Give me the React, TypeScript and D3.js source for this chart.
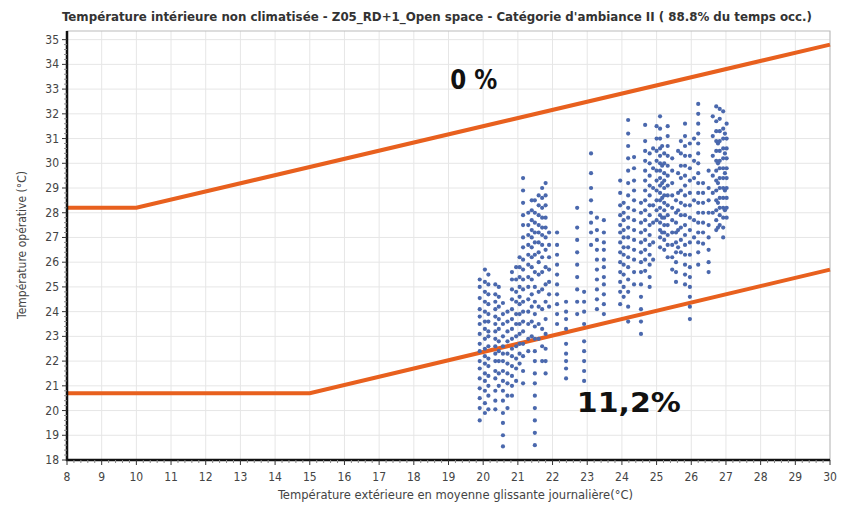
import { useEffect, useRef } from 'react'
import * as d3 from 'd3'

// comfort band boundaries (outdoor running mean -> operative temperature)
const upperX = [8, 10, 30]
const upperY = [28.2, 28.2, 34.8]
const lowerX = [8, 15, 30]
const lowerY = [20.7, 20.7, 25.7]

const xTicks = d3.range(8, 31)
const yTicks = d3.range(18, 36)

// hourly points, grouped by daily running mean (columns)
const columnX = [
  19.9, 20.05, 20.15, 20.35, 20.45, 20.57, 20.7, 20.83, 20.95, 21.05,
  21.15, 21.3, 21.4, 21.49, 21.6, 21.7, 21.8, 21.9, 22.13, 22.39,
  22.71, 22.91, 23.11, 23.28, 23.48, 23.95, 24.05, 24.18, 24.35, 24.55,
  24.67, 24.8, 25.0, 25.1, 25.22, 25.32, 25.45, 25.56, 25.7, 25.82,
  25.96, 26.2, 26.34, 26.5, 26.72, 26.82, 26.92, 27.02,
  24.9, 25.16, 25.62, 26.08, 26.62, 26.77, 26.97,
]
const columnY = [
  [19.6, 20.1, 20.5, 20.9, 21.3, 21.7, 22.0, 22.4, 22.7, 23.1, 23.5, 23.8, 24.1, 24.55, 25.0, 25.3],
  [19.9, 20.3, 20.8, 21.2, 21.5, 21.9, 22.2, 22.5, 22.9, 23.3, 23.6, 24.0, 24.4, 24.8, 25.2, 25.7],
  [20.05, 20.6, 21.0, 21.4, 21.8, 22.1, 22.6, 23.0, 23.2, 23.6, 23.9, 24.3, 24.7, 25.1, 25.5],
  [20.05, 20.4, 20.8, 21.3, 21.6, 22.0, 22.3, 22.6, 22.9, 23.2, 23.5, 23.8, 24.1, 24.4, 24.7, 25.1],
  [21.0, 21.5, 22.0, 22.4, 22.8, 23.3, 23.7, 24.2, 24.6, 25.0],
  [18.55, 19.0, 19.5, 19.9, 20.4, 20.8, 21.2, 21.6, 22.0, 22.3, 22.6, 23.0, 23.5, 23.9, 24.35],
  [20.1, 20.6, 21.1, 21.5, 21.9, 22.3, 22.8, 23.2, 23.6, 24.0],
  [20.6, 21.0, 21.4, 21.8, 22.2, 22.5, 22.9, 23.3, 23.7, 24.1, 24.5, 24.9, 25.3, 25.6],
  [21.2, 21.7, 22.1, 22.6, 23.0, 23.5, 23.9, 24.4, 24.8, 25.3, 25.8],
  [21.9, 22.3, 22.7, 23.1, 23.5, 23.9, 24.3, 24.6, 25.0, 25.4, 25.8, 26.2],
  [21.1, 21.6, 22.2, 22.7, 23.2, 23.6, 24.0, 24.4, 24.9, 25.3, 25.7, 26.1, 26.6, 27.0, 27.5, 27.9, 28.4, 28.9, 29.4],
  [22.4, 22.9, 23.5, 24.0, 24.5, 25.0, 25.4, 25.9, 26.3, 26.7, 27.1, 27.5, 28.0],
  [23.0, 23.6, 24.2, 24.7, 25.3, 25.8, 26.2, 26.6, 27.0, 27.3, 27.7, 28.1, 28.5],
  [18.6, 19.1, 19.6, 20.1, 20.6, 21.1, 21.5, 22.0, 22.4, 22.9, 23.4, 23.9, 24.4, 25.0, 25.6, 26.3, 26.8, 27.2, 27.6, 28.0, 28.5],
  [22.9, 23.5, 24.2, 24.8, 25.5, 26.0, 26.4, 26.8, 27.2, 27.5, 27.9, 28.3, 28.7],
  [22.0, 22.6, 23.3, 24.1, 24.9, 25.6, 26.2, 26.7, 27.1, 27.4, 27.8, 28.2, 28.6, 29.0],
  [21.5, 22.0, 22.5, 23.1, 23.7, 24.4, 25.1, 25.8, 26.5, 27.0, 27.4, 27.8, 28.3, 28.7, 29.2],
  [24.2, 24.7, 25.2, 25.7, 26.2, 26.7, 27.2],
  [23.5, 23.9, 24.3, 24.7, 25.1, 25.5, 25.9, 26.3, 26.7, 27.2],
  [21.3, 21.7, 22.0, 22.3, 22.7, 23.3, 23.7, 24.0, 24.4],
  [23.9, 24.4, 24.9, 25.4, 25.9, 26.4, 26.9, 27.4, 28.2],
  [21.2, 21.6, 22.0, 22.4, 22.8, 23.5, 24.0, 24.4, 24.8],
  [26.7, 27.2, 27.6, 28.0, 28.5, 29.0, 29.6, 30.4],
  [24.1, 24.5, 24.9, 25.3, 25.7, 26.1, 26.5, 26.9, 27.3, 27.8],
  [23.9, 24.3, 24.7, 25.1, 25.4, 25.8, 26.1, 26.5, 26.8, 27.2, 27.7],
  [24.3, 24.8, 25.2, 25.6, 26.0, 26.4, 26.8, 27.2, 27.5, 27.9, 28.3, 28.8, 29.3],
  [24.6, 25.0, 25.5, 25.9, 26.3, 26.6, 27.0, 27.3, 27.7, 28.0, 28.4],
  [23.6, 24.2, 24.8, 25.3, 25.8, 26.2, 26.6, 27.0, 27.4, 27.8, 28.2, 28.7, 29.2, 29.7, 30.2, 30.7, 31.2, 31.75],
  [25.1, 25.6, 26.1, 26.5, 26.9, 27.3, 27.7, 28.1, 28.5, 28.9, 29.3, 29.8, 30.25],
  [23.1, 23.6, 24.1, 24.6, 25.1, 25.6, 26.0, 26.4, 26.8, 27.2, 27.6, 28.0, 28.4],
  [25.65, 26.1, 26.5, 26.9, 27.3, 27.7, 28.1, 28.5, 28.9, 29.3, 29.7, 30.1, 30.5, 30.9, 31.55],
  [25.0, 25.4, 25.9, 26.3, 26.7, 27.1, 27.5, 27.9, 28.3, 28.7, 29.1, 29.5, 30.0, 30.4],
  [27.7, 28.1, 28.5, 28.9, 29.3, 29.7, 30.1, 30.5, 31.0, 31.5],
  [26.6, 27.0, 27.3, 27.6, 27.9, 28.2, 28.5, 28.8, 29.1, 29.4, 29.7, 30.0, 30.3, 30.6, 31.0, 31.4, 31.9],
  [26.5, 26.9, 27.2, 27.5, 27.8, 28.1, 28.4, 28.7, 29.0, 29.3, 29.6, 30.0, 30.4],
  [26.2, 26.7, 27.1, 27.5, 27.9, 28.3, 28.7, 29.1, 29.5, 29.9, 30.3, 30.7, 31.1, 31.5],
  [25.7, 26.2, 26.7, 27.2, 27.7, 28.2, 28.7, 29.2, 29.7, 30.2],
  [25.2, 25.6, 26.0, 26.4, 26.8, 27.2, 27.6, 28.0, 28.5],
  [26.4, 26.9, 27.4, 27.9, 28.4, 28.9, 29.4, 29.9, 30.4, 30.9],
  [25.1, 25.5, 25.9, 26.3, 26.7, 27.1, 27.5, 27.9, 28.3, 28.7, 29.1, 29.5, 29.9, 30.3, 30.7, 31.1, 31.6],
  [23.7, 24.2, 24.6, 25.0, 25.4, 25.8, 26.3, 26.8, 27.3, 27.8, 28.3, 28.8, 29.3, 29.8, 30.3, 30.8],
  [25.9, 26.4, 26.8, 27.2, 27.6, 28.0, 28.4, 28.8, 29.2, 29.6, 30.0, 30.4, 30.8, 31.2, 31.6, 32.0, 32.4],
  [26.75, 27.2, 27.6, 28.0, 28.4, 28.8, 29.2],
  [25.6, 26.0, 26.5, 27.0, 27.5, 28.0, 28.5, 29.0, 29.7],
  [27.3, 27.7, 28.1, 28.5, 28.9, 29.3, 29.7, 30.1, 30.5, 30.9, 31.3, 31.7, 32.3],
  [27.5, 27.9, 28.2, 28.6, 29.0, 29.4, 29.8, 30.1, 30.5, 30.9, 31.3, 31.8, 32.2],
  [27.0, 27.4, 27.8, 28.2, 28.6, 29.0, 29.4, 29.8, 30.2, 30.6, 31.0, 31.4, 32.1],
  [27.8, 28.2, 28.6, 29.0, 29.4, 29.8, 30.2, 30.6, 31.0, 31.6],
  [26.1, 26.8, 27.6, 28.3, 29.0, 29.8, 30.6],
  [27.2, 27.8, 28.6, 29.2, 29.9, 30.7],
  [26.6, 27.3, 28.1, 28.8, 29.6, 30.5],
  [27.0, 27.7, 28.5, 29.4, 30.1, 31.0],
  [28.0, 28.8, 29.5, 30.3, 31.1, 31.9],
  [27.4, 28.4, 29.2, 30.0, 30.8],
  [28.1, 28.9, 29.6, 30.4, 31.2],
]

const annotations = [
  { x: 19.05, y: 33.0, text: '0 %', width: 47 },
  { x: 22.7, y: 19.94, text: '11,2%', width: 104 },
]

const title = "Température intérieure non climatisée  - Z05_RD+1_Open space - Catégorie d'ambiance II ( 88.8% du temps occ.)"
const xTitle = 'Température extérieure en moyenne glissante journalière(°C)'
const yTitle = 'Température opérative (°C)'

const W = 843
const H = 505
const font = '"DejaVu Sans Condensed", "DejaVu Sans", sans-serif'

export default function App() {
  const svgRef = useRef<SVGSVGElement>(null)

  useEffect(() => {
    if (!svgRef.current) return
    const svg = d3.select(svgRef.current)
    svg.selectAll('*').remove()

    const left = 67, right = 830, top = 31, bottom = 460
    const x = d3.scaleLinear().domain([8, 30]).range([left, right])
    const y = d3.scaleLinear().domain([18, 35.35]).range([bottom, top])

    svg.append('rect').attr('width', W).attr('height', H).attr('fill', 'white')

    // grid
    const grid = svg.append('g').attr('stroke', '#e6e6e6').attr('stroke-width', 1)
    xTicks.forEach((t) => {
      grid.append('line').attr('x1', x(t)).attr('x2', x(t)).attr('y1', top).attr('y2', bottom)
    })
    yTicks.forEach((t) => {
      grid.append('line').attr('x1', left).attr('x2', right).attr('y1', y(t)).attr('y2', y(t))
    })

    // frame
    svg.append('rect')
      .attr('x', left).attr('y', top).attr('width', right - left).attr('height', bottom - top)
      .attr('fill', 'none').attr('stroke', '#bbbbbb').attr('stroke-width', 1)

    // comfort limits
    const line = d3.line<[number, number]>().x((d) => x(d[0])).y((d) => y(d[1]))
    ;[[upperX, upperY], [lowerX, lowerY]].forEach(([xs, ys]) => {
      svg.append('path')
        .datum(xs.map((v, i) => [v, ys[i]] as [number, number]))
        .attr('fill', 'none').attr('stroke', '#e8601e').attr('stroke-width', 4)
        .attr('d', line)
    })

    // points
    const pts: [number, number][] = []
    columnX.forEach((cx, i) => columnY[i].forEach((v) => pts.push([cx, v])))
    svg.append('g').selectAll('circle').data(pts).enter().append('circle')
      .attr('cx', (d) => x(d[0])).attr('cy', (d) => y(d[1]))
      .attr('r', 2.1).attr('fill', '#4a68ad')

    // axes
    const ax = svg.append('g').attr('stroke', '#111')
    ax.append('line').attr('x1', left).attr('x2', left).attr('y1', top).attr('y2', bottom + 1).attr('stroke-width', 2.5)
    ax.append('line').attr('x1', left - 1).attr('x2', right).attr('y1', bottom).attr('y2', bottom).attr('stroke-width', 2.5)
    d3.range(8, 30.01, 0.2).forEach((t) => {
      const major = Math.abs(t - Math.round(t)) < 0.01
      ax.append('line').attr('x1', x(t)).attr('x2', x(t))
        .attr('y1', bottom).attr('y2', bottom + (major ? 5 : 3)).attr('stroke-width', 1)
        .attr('stroke', major ? '#333' : '#888')
    })
    d3.range(18, 35.01, 0.2).forEach((t) => {
      const major = Math.abs(t - Math.round(t)) < 0.01
      ax.append('line').attr('y1', y(t)).attr('y2', y(t))
        .attr('x1', left).attr('x2', left - (major ? 5 : 3)).attr('stroke-width', 1)
        .attr('stroke', major ? '#333' : '#888')
    })

    xTicks.forEach((t) => {
      svg.append('text').attr('x', x(t)).attr('y', bottom + 21)
        .attr('text-anchor', 'middle').attr('font-size', 12).attr('font-family', font)
        .attr('fill', '#444').text(t)
    })
    yTicks.forEach((t) => {
      svg.append('text').attr('x', left - 8).attr('y', y(t) + 4)
        .attr('text-anchor', 'end').attr('font-size', 12).attr('font-family', font)
        .attr('fill', '#444').text(t)
    })

    // titles
    svg.append('text').attr('x', 62).attr('y', 21)
      .attr('font-size', 13).attr('font-weight', 'bold').attr('font-family', font)
      .attr('fill', '#333').attr('textLength', 750).attr('lengthAdjust', 'spacingAndGlyphs')
      .text(title)
    svg.append('text').attr('x', 278).attr('y', 499)
      .attr('font-size', 12).attr('font-family', font).attr('fill', '#444')
      .attr('textLength', 355).attr('lengthAdjust', 'spacingAndGlyphs')
      .text(xTitle)
    svg.append('text').attr('transform', 'translate(26,245) rotate(-90)')
      .attr('text-anchor', 'middle').attr('font-size', 12).attr('font-family', font)
      .attr('fill', '#444').text(yTitle)

    annotations.forEach((a) => {
      svg.append('text').attr('x', x(a.x)).attr('y', y(a.y))
        .attr('font-size', 27).attr('font-weight', 'bold')
        .attr('font-family', '"DejaVu Sans", sans-serif').attr('fill', '#111')
        .attr('textLength', a.width).attr('lengthAdjust', 'spacingAndGlyphs')
        .text(a.text)
    })
  }, [])

  return <svg ref={svgRef} width={W} height={H} style={{ position: 'absolute', left: 0, top: 0 }} />
}
